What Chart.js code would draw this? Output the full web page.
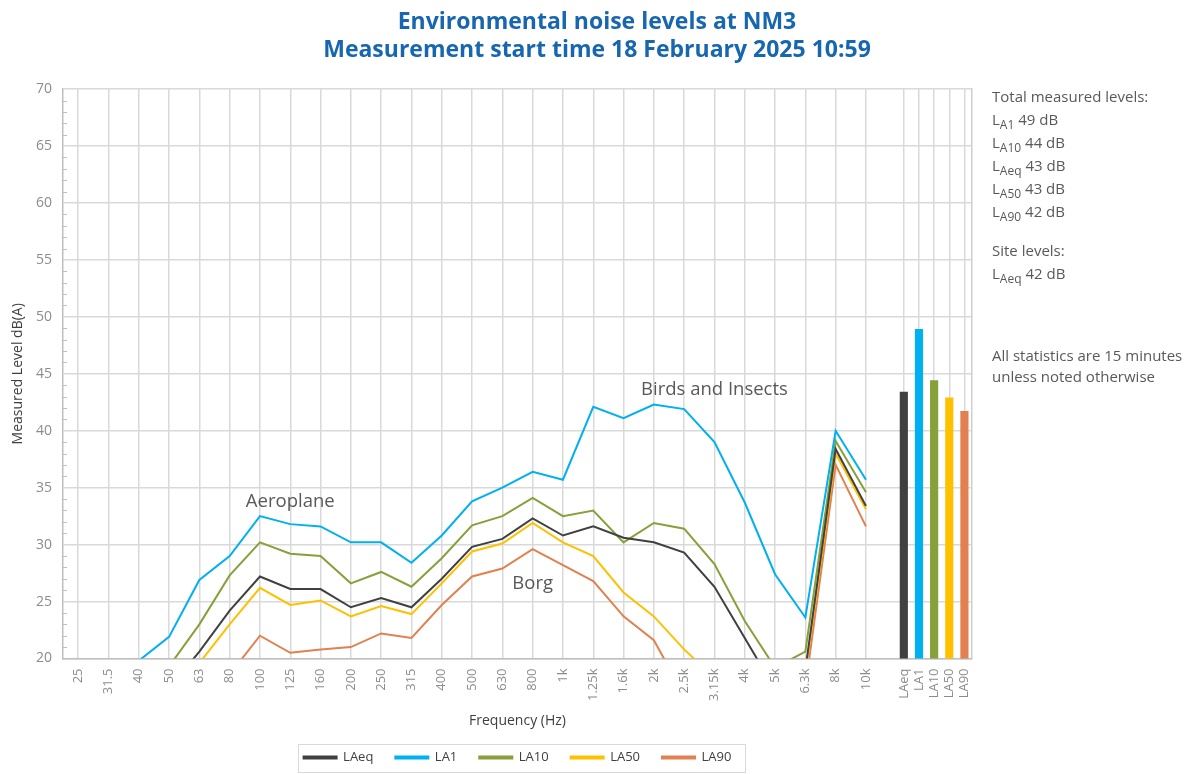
<!DOCTYPE html>
<html>
<head>
<meta charset="utf-8">
<script src="https://cdn.jsdelivr.net/npm/chart.js@4.4.1/dist/chart.umd.min.js"></script>
<style>
html,body{margin:0;padding:0;background:#fff;}
#wrap{position:relative;width:1194px;height:774px;overflow:hidden;}
canvas{display:block;}
.side{position:absolute;left:992px;font-family:"Open Sans",sans-serif;font-size:15px;color:#595959;line-height:23px;white-space:nowrap;}
.side sub{font-size:0.8em;line-height:0;vertical-align:-0.3em;}
</style>
</head>
<body>
<div id="wrap">
<canvas id="c" width="1194" height="774"></canvas>
<div class="side" id="s1" style="top:85px"></div>
<div class="side" id="s2" style="top:239px"></div>
<div class="side" id="s3" style="top:345px;line-height:21px"></div>
</div>
<script>
// ---------- data ----------
const freqLabels = ['25','31.5','40','50','63','80','100','125','160','200','250','315','400','500','630','800','1k','1.25k','1.6k','2k','2.5k','3.15k','4k','5k','6.3k','8k','10k'];
const statLabels = ['LAeq','LA1','LA10','LA50','LA90'];

const LAeq = [14.0,13.5,15.5,17.4,20.6,24.2,27.2,26.1,26.1,24.5,25.3,24.5,27.0,29.8,30.5,32.3,30.8,31.6,30.6,30.2,29.3,26.3,21.8,17.3,19.0,38.4,33.4];
const LA1  = [16.5,16.0,19.8,21.9,26.9,29.0,32.5,31.8,31.6,30.2,30.2,28.4,30.8,33.8,35.0,36.4,35.7,42.1,41.1,42.3,41.9,39.0,33.7,27.4,23.6,40.0,35.7];
const LA10 = [15.5,15.0,16.5,19.3,23.0,27.3,30.2,29.2,29.0,26.6,27.6,26.3,28.8,31.7,32.5,34.1,32.5,33.0,30.2,31.9,31.4,28.3,23.3,19.2,20.6,39.1,34.6];
const LA50 = [13.0,12.5,14.0,15.5,19.6,23.0,26.2,24.7,25.1,23.7,24.6,23.9,26.6,29.4,30.1,31.9,30.2,29.0,25.8,23.7,20.8,18.3,16.5,15.5,18.7,38.0,33.1];
const LA90 = [11.0,10.5,12.0,13.5,15.5,18.6,22.0,20.5,20.8,21.0,22.2,21.8,24.7,27.2,27.9,29.6,28.2,26.8,23.7,21.6,16.8,14.5,13.0,12.5,17.5,37.0,31.6];

const statValues = [43.4,48.9,44.4,42.9,41.7];

const seriesNames = ['LAeq','LA1','LA10','LA50','LA90'];
const seriesColors = ['#404040','#00B0F0','#86A03A','#FFC000','#E2804F'];

const titleLines = ['Environmental noise levels at NM3','Measurement start time 18 February 2025 10:59'];

const totalNames = ['A1','A10','Aeq','A50','A90'];
const totalValues = [49,44,43,43,42];
const siteNames = ['Aeq'];
const siteValues = [42];
const noteLines = ['All statistics are 15 minutes','unless noted otherwise'];

const annotationTexts = ['Aeroplane','Birds and Insects','Borg'];
const annotationAt = ['125','3.15k','800'];
const annotationLevels = [33.8,43.6,26.6];

// ---------- side text ----------
document.getElementById('s1').innerHTML = 'Total measured levels:<br>' +
  totalNames.map((n,i)=>'L<sub>'+n+'</sub> '+totalValues[i]+' dB').join('<br>');
document.getElementById('s2').innerHTML = 'Site levels:<br>' +
  siteNames.map((n,i)=>'L<sub>'+n+'</sub> '+siteValues[i]+' dB').join('<br>');
document.getElementById('s3').innerHTML = noteLines.join('<br>');

// ---------- axis layout (category slots) ----------
const freqPos = freqLabels.map((_,i)=>2+4*i);
const statPos = statLabels.map((_,j)=>111+2*j);
const tickPos = freqPos.concat(statPos);
const tickLabels = freqLabels.concat(statLabels);

Chart.defaults.font.family = "'Open Sans', sans-serif";

const lineSeries = [LAeq, LA1, LA10, LA50, LA90];
const datasets = lineSeries.map((vals,k)=>({
  type:'line',
  label: seriesNames[k],
  data: vals.map((v,i)=>({x:freqPos[i], y:v})),
  borderColor: seriesColors[k],
  backgroundColor: seriesColors[k],
  borderWidth: 2,
  pointRadius: 0,
  tension: 0,
  fill: false,
  clip: 0
}));
datasets.push({
  type:'bar',
  label:'Totals',
  data: statValues.map((v,j)=>({x:statPos[j], y:v})),
  backgroundColor: seriesColors,
  borderWidth: 0,
  barThickness: 7.5
});

const minorTicks = {
  id:'minorTicks',
  beforeDatasetsDraw(chart){
    const {ctx, chartArea, scales:{y}} = chart;
    ctx.save();
    ctx.strokeStyle = '#bfbfbf';
    ctx.lineWidth = 1;
    for (let v = y.min; v <= y.max; v += 1) {
      if (v % 5 === 0) continue;
      const py = Math.round(y.getPixelForValue(v)) + 0.5;
      ctx.beginPath();
      ctx.moveTo(chartArea.left, py);
      ctx.lineTo(chartArea.left + 4, py);
      ctx.stroke();
    }
    ctx.restore();
  }
};

const notes = {
  id:'notes',
  afterDatasetsDraw(chart){
    const {ctx, scales:{x,y}} = chart;
    ctx.save();
    ctx.font = "18.5px 'Open Sans', sans-serif";
    ctx.fillStyle = '#595959';
    ctx.textAlign = 'center';
    ctx.textBaseline = 'middle';
    annotationTexts.forEach((t,i)=>{
      const idx = freqLabels.indexOf(annotationAt[i]);
      ctx.fillText(t, x.getPixelForValue(freqPos[idx]), y.getPixelForValue(annotationLevels[i]));
    });
    ctx.restore();
  }
};

const legendBox = {
  id:'legendBox',
  afterDraw(chart){
    const hb = chart.legend && chart.legend.legendHitBoxes;
    if (!hb || !hb.length) return;
    const first = hb[0], last = hb[hb.length-1];
    const ctx = chart.ctx;
    ctx.save();
    ctx.strokeStyle = '#d9d9d9';
    ctx.lineWidth = 1;
    const l = Math.round(first.left - 6) + 0.5;
    const r = Math.round(last.left + last.width + 14) + 0.5;
    const t = Math.round(first.top - 7) + 0.5;
    const b = Math.round(first.top + first.height + 8) + 0.5;
    ctx.strokeRect(l, t, r - l, b - t);
    ctx.restore();
  }
};

new Chart(document.getElementById('c'), {
  type:'line',
  data:{datasets},
  options:{
    responsive:false,
    animation:false,
    events:[],
    layout:{padding:{left:0,right:0,top:0,bottom:0}},
    plugins:{
      title:{
        display:true,
        text:titleLines,
        color:'#1766B0',
        font:{size:23, weight:'bold', lineHeight:1.22},
        padding:{top:8,bottom:25}
      },
      legend:{
        position:'bottom',
        fullSize:false,
        labels:{
          filter:(it)=>it.datasetIndex < lineSeries.length,
          boxWidth:33,
          boxHeight:2,
          padding:22,
          color:'#404040',
          font:{size:13}
        }
      },
      tooltip:{enabled:false}
    },
    scales:{
      x:{
        type:'linear',
        offset:false,
        min:0,
        max:120,
        afterBuildTicks:(s)=>{ s.ticks = tickPos.map(v=>({value:v})); },
        afterFit:(s)=>{ s.height = 70.5; },
        grid:{color:'#d9d9d9', lineWidth:1.5, drawTicks:false, offset:false},
        border:{color:'#bfbfbf', width:1.5},
        ticks:{
          autoSkip:false, maxRotation:90, minRotation:90, padding:10,
          color:'#8c8c8c', font:{size:13},
          callback:(v,i)=>tickLabels[i]
        },
        title:{display:true, text:'Frequency (Hz)', color:'#404040', font:{size:14}, padding:{top:0,bottom:0}}
      },
      y:{
        min:20, max:70,
        afterFit:(s)=>{ s.width = 63; },
        grid:{color:'#d9d9d9', lineWidth:1.5, drawTicks:false},
        border:{color:'#bfbfbf', width:1.5},
        ticks:{stepSize:5, padding:11, color:'#8c8c8c', font:{size:14}},
        title:{display:true, text:'Measured Level dB(A)', color:'#404040', font:{size:14}, padding:{top:10,bottom:0}}
      },
      yR:{
        position:'right',
        display:true,
        grid:{display:false, drawTicks:false},
        ticks:{display:false},
        border:{display:true, color:'#cfcfcf', width:1.5},
        afterFit:(s)=>{ s.width = 222; }
      }
    }
  },
  plugins:[minorTicks, notes, legendBox]
});
</script>
</body>
</html>
